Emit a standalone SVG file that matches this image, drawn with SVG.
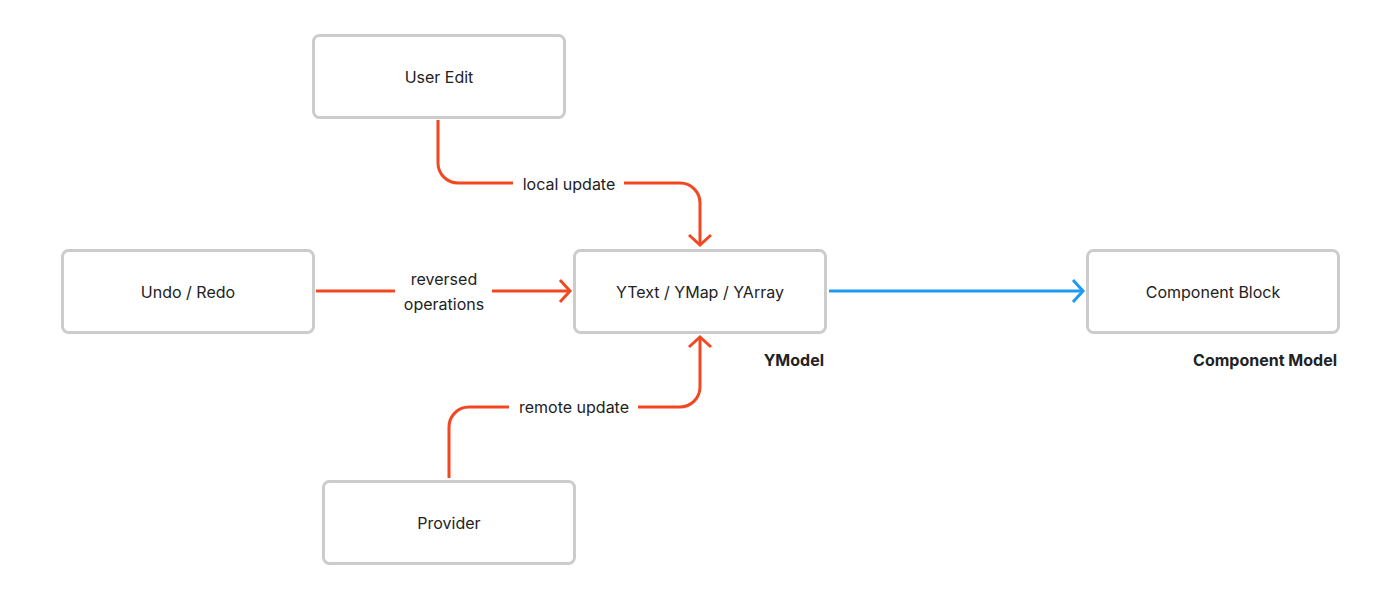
<svg xmlns="http://www.w3.org/2000/svg" width="1400" height="600" viewBox="0 0 1400 600">
<style>
.box{fill:#fff;stroke:#cccccc;stroke-width:3}
.t{font-family:Inter,"Liberation Sans",sans-serif;font-size:16px;fill:#222;text-anchor:middle;dominant-baseline:central}
.b{font-family:Inter,"Liberation Sans",sans-serif;font-size:16px;font-weight:700;fill:#222;text-anchor:end;dominant-baseline:central}
.o{fill:none;stroke:#F24822;stroke-width:3;stroke-linecap:butt;stroke-linejoin:miter}
.bl{fill:none;stroke:#1E9BF0;stroke-width:3}
.lbg{fill:#fff}
</style>
<defs>
<marker id="ao" markerUnits="userSpaceOnUse" markerWidth="30" markerHeight="30" refX="0" refY="0" viewBox="-15 -15 30 30" orient="auto">
<path d="M-10,-11 L0,0 L-10,11" fill="none" stroke="#F24822" stroke-width="3"/>
</marker>
<marker id="ab" markerUnits="userSpaceOnUse" markerWidth="30" markerHeight="30" refX="0" refY="0" viewBox="-15 -15 30 30" orient="auto">
<path d="M-10,-11 L0,0 L-10,11" fill="none" stroke="#1E9BF0" stroke-width="3"/>
</marker>
</defs>
<rect width="1400" height="600" fill="#fff"/>
<g id="connectors">
<path class="o" d="M438,120 V163 A20,20 0 0 0 458,183 H680 A20,20 0 0 1 700,203 V245" marker-end="url(#ao)"/>
<rect class="lbg" x="513" y="172" width="111" height="24"/>
<text class="t" x="569" y="184">local update</text>
<path class="o" d="M316,291 H570" marker-end="url(#ao)"/>
<rect class="lbg" x="395" y="266" width="97" height="50"/>
<text class="t" x="444" y="279">reversed</text>
<text class="t" x="444" y="304">operations</text>
<path class="o" d="M449,478 V427 A20,20 0 0 1 469,407 H680 A20,20 0 0 0 700,387 V337" marker-end="url(#ao)"/>
<rect class="lbg" x="509" y="395" width="129" height="24"/>
<text class="t" x="574" y="407">remote update</text>
<path class="bl" d="M829,291 H1083" marker-end="url(#ab)"/>
</g>
<g id="user-edit"><rect class="box" x="313.5" y="35.5" width="251" height="82" rx="6"/><text class="t" x="439" y="77">User Edit</text></g>
<g id="undo-redo"><rect class="box" x="62.5" y="250.5" width="251" height="82" rx="6"/><text class="t" x="188" y="292">Undo / Redo</text></g>
<g id="ymodel"><rect class="box" x="574.5" y="250.5" width="251" height="82" rx="6"/><text class="t" x="700" y="292">YText / YMap / YArray</text><text class="b" x="824" y="360">YModel</text></g>
<g id="component"><rect class="box" x="1087.5" y="250.5" width="251" height="82" rx="6"/><text class="t" x="1213" y="292">Component Block</text><text class="b" x="1337" y="360">Component Model</text></g>
<g id="provider"><rect class="box" x="323.5" y="481.5" width="251" height="82" rx="6"/><text class="t" x="449" y="523">Provider</text></g>
</svg>
